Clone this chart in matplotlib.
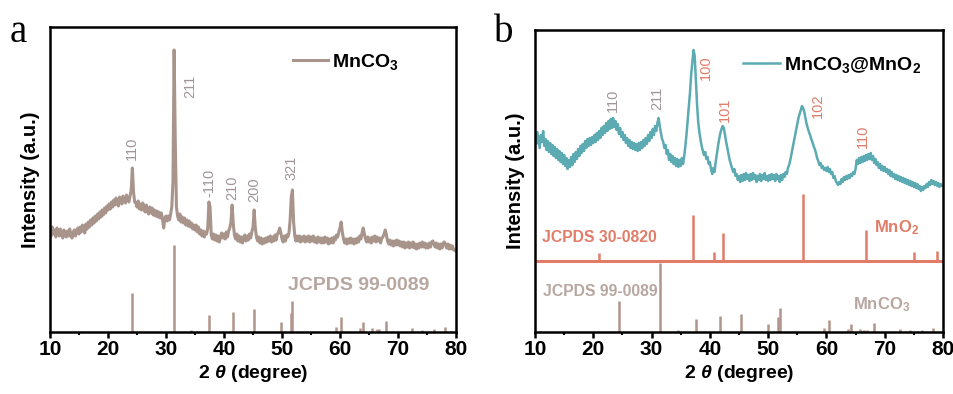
import numpy as np
import matplotlib
matplotlib.use('Agg')
import matplotlib.pyplot as plt
from matplotlib.ticker import MultipleLocator

plt.rcParams['font.family'] = ['Liberation Sans', 'DejaVu Sans']
plt.rcParams['font.weight'] = 'bold'
plt.rcParams['mathtext.fontset'] = 'custom'
plt.rcParams['mathtext.rm'] = 'Liberation Sans:bold'
plt.rcParams['mathtext.it'] = 'Liberation Sans:italic:bold'
plt.rcParams['mathtext.bf'] = 'Liberation Sans:bold'

# ---------------- data ----------------
two_theta = np.round(np.arange(10.0, 80.0001, 0.2), 1)

mnco3_intensity = [
    102, 96, 105, 98, 102, 95, 104, 99, 96, 103, 98, 94, 102, 97, 95, 101, 96, 103, 97, 94, 100, 102, 96, 101, 104,
    98, 105, 100, 107, 102, 99, 108, 103, 110, 105, 112, 107, 114, 109, 116, 111, 118, 113, 120, 115, 122, 117, 124, 119, 126,
    122, 128, 123, 130, 125, 132, 127, 134, 129, 126, 135, 130, 128, 136, 131, 129, 137, 132, 130, 136, 142, 164, 140, 130, 129,
    125, 131, 123, 128, 122, 129, 124, 120, 127, 121, 118, 125, 119, 124, 117, 122, 116, 121, 115, 120, 114, 119, 113, 104, 114,
    116, 111, 116, 112, 118, 125, 150, 282, 190, 125, 116, 112, 118, 110, 115, 109, 114, 107, 112, 106, 111, 105, 109, 103, 107,
    102, 107, 100, 105, 98, 102, 96, 101, 95, 100, 98, 104, 130, 125, 97, 93, 98, 92, 97, 91, 96, 90, 95, 99, 94,
    98, 93, 100, 95, 101, 104, 110, 127, 108, 97, 93, 98, 91, 96, 90, 95, 89, 94, 97, 91, 96, 92, 98, 94, 100,
    105, 122, 104, 95, 91, 95, 89, 94, 88, 93, 89, 94, 90, 95, 91, 96, 90, 95, 91, 97, 92, 98, 100, 104, 99,
    93, 90, 96, 91, 97, 95, 99, 112, 135, 142, 110, 96, 91, 96, 91, 96, 90, 95, 91, 96, 90, 95, 91, 96, 90,
    95, 91, 96, 90, 94, 89, 95, 90, 94, 89, 94, 89, 95, 90, 94, 88, 93, 89, 94, 89, 95, 92, 97, 95, 100,
    104, 110, 100, 93, 89, 93, 88, 93, 89, 94, 89, 93, 88, 93, 89, 94, 90, 96, 93, 99, 104, 98, 93, 90, 95,
    90, 94, 89, 95, 91, 96, 90, 95, 91, 94, 89, 94, 95, 98, 102, 97, 91, 88, 92, 87, 91, 86, 91, 87, 92,
    87, 91, 86, 90, 85, 90, 84, 89, 85, 90, 84, 89, 85, 90, 84, 88, 83, 88, 84, 89, 85, 90, 85, 89, 84,
    88, 84, 89, 85, 90, 91, 88, 85, 89, 84, 88, 83, 88, 84, 89, 90, 87, 84, 88, 83, 87, 83, 86, 82, 82,
    81,
]

composite_intensity = [
    196, 188, 200, 192, 184, 197, 190, 201, 186, 193, 182, 191, 180, 189, 178, 187, 176, 185, 174, 183, 172, 181, 170, 179, 168,
    177, 166, 174, 163, 172, 165, 175, 167, 178, 170, 180, 173, 183, 176, 186, 179, 188, 181, 191, 184, 193, 186, 194, 187, 195,
    189, 197, 190, 199, 192, 201, 194, 204, 197, 206, 199, 209, 201, 211, 203, 213, 204, 214, 205, 211, 202, 208, 198, 204, 195,
    200, 192, 197, 189, 194, 186, 192, 184, 190, 183, 189, 182, 188, 181, 189, 182, 190, 184, 192, 186, 194, 188, 197, 191, 200,
    194, 203, 197, 206, 201, 209, 214, 206, 199, 193, 190, 184, 187, 178, 182, 172, 178, 170, 176, 168, 174, 166, 173, 165, 172,
    166, 174, 168, 176, 186, 198, 212, 226, 240, 258, 270, 282, 276, 252, 228, 210, 200, 192, 186, 181, 177, 180, 173, 175, 168,
    170, 163, 158, 164, 160, 170, 178, 186, 193, 199, 203, 206, 204, 197, 190, 184, 178, 172, 168, 164, 160, 163, 156, 158, 152,
    156, 150, 157, 151, 158, 152, 159, 153, 157, 151, 158, 152, 159, 153, 157, 150, 156, 152, 158, 151, 157, 153, 159, 152, 156,
    151, 157, 152, 158, 153, 157, 151, 158, 153, 156, 150, 157, 152, 158, 155, 160, 158, 164, 167, 172, 178, 184, 190, 196, 202,
    208, 214, 218, 222, 226, 224, 220, 214, 208, 204, 200, 197, 193, 190, 186, 183, 179, 174, 171, 167, 169, 164, 166, 162, 164,
    161, 165, 160, 163, 158, 160, 154, 156, 151, 149, 147, 150, 148, 153, 150, 155, 152, 156, 153, 157, 154, 158, 156, 160, 158,
    163, 172, 168, 174, 169, 175, 170, 176, 171, 177, 172, 178, 173, 179, 172, 176, 169, 173, 167, 170, 164, 168, 162, 166, 161,
    165, 160, 163, 158, 162, 156, 160, 155, 158, 153, 157, 152, 156, 151, 155, 150, 154, 149, 153, 148, 152, 147, 151, 146, 150,
    145, 149, 144, 148, 143, 146, 141, 145, 142, 146, 144, 148, 145, 150, 147, 152, 148, 151, 147, 150, 146, 149, 145, 148, 146,
    147,
]

# JCPDS 99-0089 (MnCO3) reference lines
mnco3_ref_pos = [24.2, 31.3, 34.3, 37.5, 41.5, 45.2, 49.8, 51.5, 51.8, 59.3, 60.2, 63.5, 64.0,
                 65.5, 66.3, 66.8, 67.9, 72.4, 74.1, 76.2, 78.1]
mnco3_ref_int = [39, 87, 2, 17, 20, 23, 10, 19, 31, 5, 15, 4, 10,
                 4, 3, 3, 11, 4, 2, 3, 5]

# JCPDS 30-0820 (MnO2) reference lines
mno2_ref_pos = [21.0, 37.1, 40.7, 42.3, 56.0, 66.8, 75.0, 79.0]
mno2_ref_int = [8, 46, 9, 28, 67, 31, 9, 10]

labels_a = ['110', '211', '-110', '210', '200', '321']
labels_a_pos = [24.2, 34.2, 37.5, 41.4, 45.2, 51.7]
labels_a_y = [172, 234, 135, 132, 130, 152]

labels_b_mnco3 = ['110', '211']
labels_b_mnco3_pos = [23.3, 30.9]
labels_b_mnco3_y = [220, 222]
labels_b_mno2 = ['100', '101', '102', '110']
labels_b_mno2_pos = [39.3, 42.6, 58.5, 66.2]
labels_b_mno2_y = [252, 210, 214, 184]

# ---------------- style ----------------
c_mnco3 = '#A8948B'
c_stick = '#B0958C'
c_label = '#A1949A'
c_jcpds = '#B7A7A0'
c_teal = '#5CAAB2'
c_salmon = '#E07C68'

W, H = 954, 394
fig = plt.figure(figsize=(W / 100, H / 100), dpi=100)
ax_a = fig.add_axes([50 / W, 1 - 332 / H, 406 / W, 305 / H])
ax_b = fig.add_axes([535 / W, 1 - 332 / H, 408 / W, 302 / H])

def style_axes(ax, ymax):
    ax.set_xlim(10, 80)
    ax.set_ylim(0, ymax)
    ax.set_yticks([])
    ax.xaxis.set_major_locator(MultipleLocator(10))
    ax.xaxis.set_minor_locator(MultipleLocator(5))
    ax.tick_params(axis='x', which='major', direction='out', length=4, width=1.8,
                   labelsize=15, pad=2)
    ax.tick_params(axis='x', which='minor', direction='out', length=2.5, width=1.5)
    for s in ax.spines.values():
        s.set_linewidth(1.8)
    ax.set_xlabel(r'2 $\theta$ (degree)', fontsize=14, fontweight='bold', labelpad=3)
    ax.set_ylabel('Intensity (a.u.)', fontsize=14.5, fontweight='bold', labelpad=7)

# ---------- panel a ----------
style_axes(ax_a, 305)
ax_a.plot(two_theta, mnco3_intensity, color=c_mnco3, lw=2.2, label=r'MnCO$_3$')
ax_a.vlines(mnco3_ref_pos, 0, mnco3_ref_int, color=c_stick, lw=1.8)
for t, x, y in zip(labels_a, labels_a_pos, labels_a_y):
    ax_a.text(x, y, t, rotation=90, ha='center', va='bottom', fontsize=10.5,
              fontweight='normal', color=c_label)
ax_a.text(51.0, 47, 'JCPDS 99-0089', ha='left', va='center', fontsize=14,
          fontweight='bold', color=c_jcpds)
ax_a.legend(loc='center left', bbox_to_anchor=((293 - 50) / 406, (332 - 62) / 305),
            frameon=False, borderpad=0, borderaxespad=0, handlelength=1.8,
            handletextpad=0.2, prop={'weight': 'bold', 'size': 14})

# ---------- panel b ----------
style_axes(ax_b, 302)
ax_b.plot(two_theta, composite_intensity, color=c_teal, lw=1.8, label=r'MnCO$_3$@MnO$_2$')
mno2_base = 71
ax_b.axhline(mno2_base, color=c_salmon, lw=2.2)
ax_b.vlines(mno2_ref_pos, mno2_base, [mno2_base + h for h in mno2_ref_int], color=c_salmon, lw=1.8)
ax_b.vlines([p + 0.2 for p in mnco3_ref_pos], 0, [h * 0.79 for h in mnco3_ref_int],
            color=c_stick, lw=1.8)
for t, x, y in zip(labels_b_mnco3, labels_b_mnco3_pos, labels_b_mnco3_y):
    ax_b.text(x, y, t, rotation=90, ha='center', va='bottom', fontsize=10.5,
              fontweight='normal', color=c_label)
for t, x, y in zip(labels_b_mno2, labels_b_mno2_pos, labels_b_mno2_y):
    ax_b.text(x, y, t, rotation=90, ha='center', va='bottom', fontsize=10.5,
              fontweight='normal', color=c_salmon)
ax_b.text(11.15, 95, 'JCPDS 30-0820', ha='left', va='center', fontsize=11.3,
          fontweight='bold', color=c_salmon)
ax_b.text(11.3, 40, 'JCPDS 99-0089', ha='left', va='center', fontsize=11.3,
          fontweight='bold', color=c_jcpds)
ax_b.text(68.1, 104, r'MnO$_2$', ha='left', va='center', fontsize=12,
          fontweight='bold', color=c_salmon)
ax_b.text(64.5, 27, r'MnCO$_3$', ha='left', va='center', fontsize=12,
          fontweight='bold', color=c_jcpds)
ax_b.legend(loc='center left', bbox_to_anchor=((743 - 535) / 408, (332 - 65) / 302),
            frameon=False, borderpad=0, borderaxespad=0, handlelength=1.9,
            handletextpad=0.2, prop={'weight': 'bold', 'size': 14})

fig.text(10 / W, 1 - 33 / H, 'a', fontsize=28, family='Liberation Serif',
         fontweight='normal', va='center', ha='left')
fig.text(494 / W, 1 - 33 / H, 'b', fontsize=28, family='Liberation Serif',
         fontweight='normal', va='center', ha='left')

fig.savefig('out.png', dpi=100)
